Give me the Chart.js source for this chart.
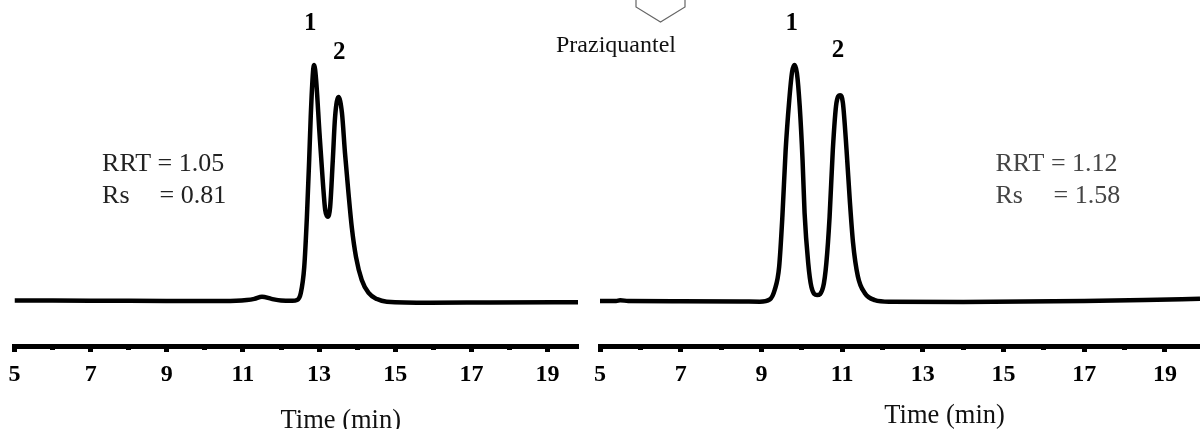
<!DOCTYPE html>
<html>
<head>
<meta charset="utf-8">
<style>
  html, body { margin: 0; padding: 0; background: #fff; }
  body { width: 1200px; height: 429px; position: relative; overflow: hidden; }
  canvas { position: absolute; top: 0; }
  #chartLeft { left: 0; }
  #chartRight { left: 584px; }
  #ring { position: absolute; left: 630px; top: 0; }
  #caption { position: absolute; left: 556px; top: 32px; font: 24px/24px "Liberation Serif"; color: #111; }
</style>
<script src="https://cdn.jsdelivr.net/npm/chart.js@4/dist/chart.umd.min.js"></script>
</head>
<body>
<canvas id="chartLeft" width="584" height="429"></canvas>
<canvas id="chartRight" width="616" height="429"></canvas>
<svg id="ring" width="60" height="26"><polyline points="6,0 6,7 30.5,22 55,7 55,0" fill="none" stroke="#666" stroke-width="1.2"/></svg>
<div id="caption">Praziquantel</div>
<script>
const timeLeft = [5, 6, 7.5, 9, 10.5, 11.1, 11.3, 11.5, 11.75, 12, 12.3, 12.42, 12.52, 12.61, 12.68, 12.74, 12.78, 12.84, 12.87, 12.92, 13.01, 13.1, 13.16, 13.23, 13.29, 13.36, 13.42, 13.51, 13.6, 13.68, 13.77, 13.86, 13.97, 14.12, 14.3, 14.52, 14.78, 15.92, 17.5, 19.8];
const signalLeft = [0.2, 0.2, 0.1, 0, 0, 0.4, 0.9, 1.8, 0.9, 0.2, 0.1, 0.4, 3.4, 14.4, 35.6, 60, 78, 97, 100, 94, 71.2, 50, 38.6, 35.7, 39.8, 59.7, 78, 86.4, 79.7, 62.7, 46, 31, 18.6, 8.9, 3.4, 0.8, -0.3, -0.7, -0.6, -0.5];

const timeRight = [5, 5.4, 5.5, 5.7, 7, 8.5, 8.96, 9.21, 9.33, 9.44, 9.52, 9.6, 9.69, 9.76, 9.82, 9.88, 9.95, 10.02, 10.07, 10.16, 10.24, 10.38, 10.53, 10.61, 10.69, 10.77, 10.86, 10.95, 11.02, 11.11, 11.19, 11.27, 11.39, 11.56, 11.81, 12.18, 14, 17, 18.5, 19.87];
const signalRight = [0, 0, 0.3, 0, -0.1, -0.2, -0.3, 0.7, 4.7, 14.5, 35.7, 63.6, 85, 97, 100, 96.6, 82.4, 59.7, 37.3, 16.1, 5.9, 2.5, 5.9, 16.1, 35.6, 64, 83.9, 87.2, 83.9, 64, 42.8, 24.9, 10.5, 3.4, 0.4, -0.3, -0.4, 0, 0.4, 0.9];

const majorTicks = [5, 7, 9, 11, 13, 15, 17, 19];
const minorTicks = [6, 8, 10, 12, 14, 16, 18];
const peakLabels = ['1', '2'];
const axisTitle = 'Time (min)';
const notesLeft = ['RRT = 1.05', 'Rs', '= 0.81'];
const notesRight = ['RRT = 1.12', 'Rs', '= 1.58'];

const SERIF = '"Liberation Serif"';
const Y_MIN = -19.07;

// writes the peak numbers, the RRT/Rs notes and the axis title at data positions
const textPlugin = {
  id: 'chartText',
  afterDraw(chart, args, opts) {
    const { ctx, scales } = chart;
    ctx.save();
    ctx.textBaseline = 'alphabetic';
    opts.items.forEach((t) => {
      ctx.font = t.font;
      ctx.fillStyle = t.color || '#000';
      ctx.textAlign = t.align || 'center';
      ctx.fillText(t.text, scales.x.getPixelForValue(t.x), scales.y.getPixelForValue(t.y));
    });
    ctx.restore();
  }
};

function drawChromatogram(id, times, signals, xMax, padLeft, padRight, items) {
  new Chart(document.getElementById(id), {
    type: 'scatter',
    data: {
      datasets: [{
        data: times.map((t, i) => ({ x: t, y: signals[i] })),
        showLine: true,
        borderColor: '#000',
        borderWidth: 4.5,
        pointRadius: 0,
        cubicInterpolationMode: 'monotone',
        borderJoinStyle: 'round'
      }]
    },
    options: {
      responsive: false,
      animation: false,
      layout: { padding: { left: padLeft, right: padRight, top: 0, bottom: 0 } },
      plugins: {
        legend: { display: false },
        tooltip: { enabled: false },
        chartText: { items }
      },
      scales: {
        x: {
          type: 'linear',
          position: 'bottom',
          min: 5,
          max: xMax,
          afterFit: (s) => { s.height = 83; },
          afterBuildTicks: (s) => { s.ticks = majorTicks.map((value) => ({ value })); },
          border: { display: true, color: '#000', width: 5 },
          grid: { drawOnChartArea: false, drawTicks: true, tickLength: 6, tickWidth: 5, tickColor: '#000' },
          ticks: {
            autoSkip: false,
            maxRotation: 0,
            padding: 8,
            color: '#000',
            font: { family: SERIF, size: 24, weight: 'bold' }
          }
        },
        xMinor: {
          type: 'linear',
          axis: 'x',
          position: { y: Y_MIN },
          min: 5,
          max: xMax,
          afterBuildTicks: (s) => { s.ticks = minorTicks.map((value) => ({ value })); },
          border: { display: false },
          grid: { drawOnChartArea: false, drawTicks: true, tickLength: 4, tickWidth: 5, tickColor: '#000' },
          ticks: { autoSkip: false, display: false }
        },
        y: { display: false, min: Y_MIN, max: 127.5 }
      }
    },
    plugins: [textPlugin]
  });
}

const LABEL_BOLD = 'bold 25px ' + SERIF;
const NOTE = '26px ' + SERIF;
const TITLE = '26.5px ' + SERIF;

drawChromatogram('chartLeft', timeLeft, signalLeft, 19.8, 14.5, 6, [
  { text: peakLabels[0], x: 12.77, y: 114.6, font: LABEL_BOLD },
  { text: peakLabels[1], x: 13.53, y: 102.6, font: LABEL_BOLD },
  { text: notesLeft[0], x: 7.3, y: 55.1, font: NOTE, align: 'left', color: '#222' },
  { text: notesLeft[1], x: 7.3, y: 41.5, font: NOTE, align: 'left', color: '#222' },
  { text: notesLeft[2], x: 8.81, y: 41.5, font: NOTE, align: 'left', color: '#222' },
  { text: axisTitle, x: 13.57, y: -53.6, font: TITLE, color: '#111' }
]);

drawChromatogram('chartRight', timeRight, signalRight, 19.87, 16, 0, [
  { text: peakLabels[0], x: 9.75, y: 114.6, font: LABEL_BOLD },
  { text: peakLabels[1], x: 10.9, y: 103.3, font: LABEL_BOLD },
  { text: notesRight[0], x: 14.8, y: 55.1, font: NOTE, align: 'left', color: '#444' },
  { text: notesRight[1], x: 14.8, y: 41.5, font: NOTE, align: 'left', color: '#444' },
  { text: notesRight[2], x: 16.24, y: 41.5, font: NOTE, align: 'left', color: '#444' },
  { text: axisTitle, x: 13.54, y: -51.5, font: TITLE, color: '#111' }
]);
</script>
</body>
</html>
